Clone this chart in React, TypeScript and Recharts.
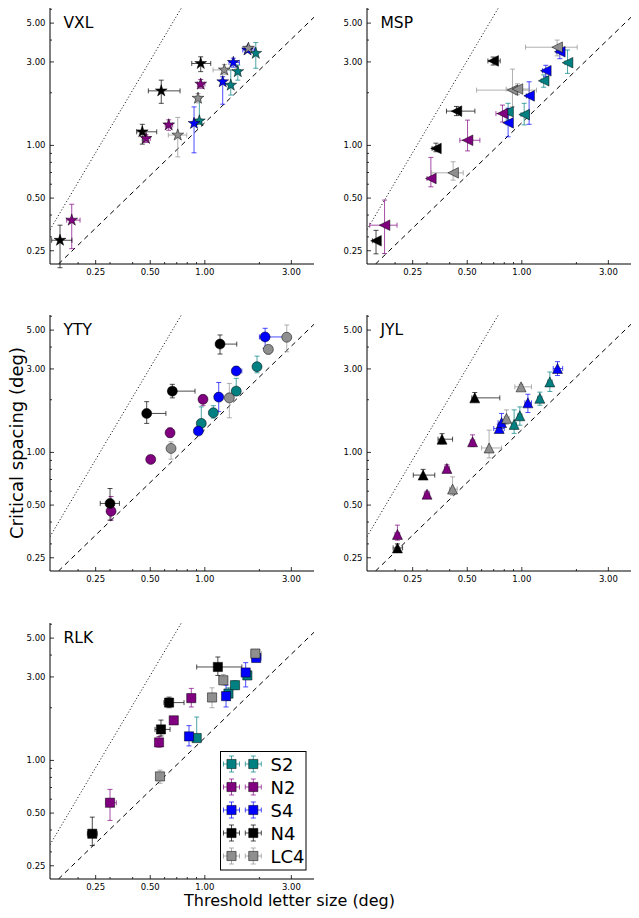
import React from 'react';
import { ScatterChart, Scatter, XAxis, YAxis, ErrorBar, ReferenceLine } from 'recharts';

// Each point: [x, y, xLow, xHigh, yLow, yHigh]
type Pt = [number, number, number, number, number, number];

const CONDITIONS = ['S2', 'N2', 'S4', 'N4', 'LC4'];
const COLORS: Record<string, string> = {
  S2: '#008080',
  N2: '#800080',
  S4: '#0000ff',
  N4: '#000000',
  LC4: '#8f8f8f',
};

const X_DOMAIN = [0.14, 4.0];
const Y_DOMAIN = [0.21, 6.1];
const X_MAJOR = [0.25, 0.5, 1, 3];
const X_MINOR = [0.2, 0.3, 0.4, 0.6, 0.7, 0.8, 0.9, 2];
const Y_MAJOR = [0.25, 0.5, 1, 3, 5];
const Y_MINOR = [0.3, 0.4, 0.6, 0.7, 0.8, 0.9, 2, 4, 6];

// guide lines (endpoints)
const DASHED_LINE = [{ x: 0.156, y: 0.21 }, { x: 4.0, y: 5.4 }];
const DOTTED_LINE = [{ x: 0.14, y: 0.33 }, { x: 0.742, y: 6.1 }];

// ---- VXL (stars)
const VXL_S2: Pt[] = [[0.933, 1.38, 0.91, 0.96, 1.32, 1.85], [1.39, 2.21, 1.35, 1.43, 1.94, 2.70], [1.52, 2.64, 1.47, 1.57, 2.36, 2.88], [1.91, 3.36, 1.86, 1.96, 2.76, 3.87]];
const VXL_N2: Pt[] = [[0.1845, 0.374, 0.173, 0.205, 0.257, 0.461], [0.474, 1.096, 0.455, 0.50, 1.04, 1.15], [0.632, 1.31, 0.605, 0.665, 1.22, 1.40], [0.949, 2.24, 0.91, 1.0, 2.12, 2.38]];
const VXL_S4: Pt[] = [[0.872, 1.336, 0.85, 0.90, 0.907, 1.66], [1.255, 2.31, 1.22, 1.29, 1.72, 2.47], [1.436, 2.98, 1.36, 1.55, 2.80, 3.15], [1.72, 3.51, 1.62, 1.88, 3.40, 3.65]];
const VXL_N4: Pt[] = [[0.159, 0.287, 0.143, 0.185, 0.2, 0.35], [0.452, 1.196, 0.421, 0.543, 1.017, 1.32], [0.575, 2.05, 0.488, 0.73, 1.74, 2.36], [0.949, 2.94, 0.847, 1.078, 2.64, 3.21]];
const VXL_LC4: Pt[] = [[0.709, 1.146, 0.629, 0.795, 0.86, 1.446], [0.917, 1.86, 0.89, 0.95, 1.75, 1.98], [1.28, 2.70, 1.11, 1.47, 2.55, 2.90], [1.74, 3.59, 1.68, 1.82, 3.48, 3.70]];

// ---- MSP (left triangles)
const MSP_S2: Pt[] = [[0.84, 1.556, 0.82, 0.87, 1.40, 1.74], [1.03, 1.50, 0.99, 1.07, 1.31, 1.74], [1.32, 2.34, 1.28, 1.36, 2.15, 2.53], [1.787, 2.97, 1.73, 1.85, 2.58, 3.51]];
const MSP_N2: Pt[] = [[0.175, 0.35, 0.145, 0.205, 0.241, 0.487], [0.315, 0.647, 0.30, 0.33, 0.58, 0.854], [0.502, 1.07, 0.455, 0.587, 0.93, 1.395], [0.782, 1.52, 0.72, 0.85, 1.36, 1.70]];
const MSP_S4: Pt[] = [[0.84, 1.346, 0.82, 0.87, 1.12, 1.63], [1.097, 1.92, 1.06, 1.14, 1.32, 2.31], [1.356, 2.67, 1.30, 1.42, 2.47, 2.87], [1.62, 3.43, 1.55, 1.72, 3.13, 3.75]];
const MSP_N4: Pt[] = [[0.157, 0.285, 0.15, 0.165, 0.24, 0.327], [0.336, 0.961, 0.32, 0.356, 0.92, 1.03], [0.436, 1.57, 0.384, 0.551, 1.48, 1.67], [0.695, 3.04, 0.65, 0.76, 2.88, 3.20]];
const MSP_LC4: Pt[] = [[0.418, 0.697, 0.318, 0.475, 0.633, 0.806], [0.888, 2.07, 0.563, 1.205, 1.66, 2.73], [0.946, 2.10, 0.82, 1.10, 1.95, 2.25], [1.566, 3.64, 1.048, 2.02, 3.25, 4.0]];

// ---- YTY (circles)
const YTY_S2: Pt[] = [[0.956, 1.465, 0.94, 0.97, 1.34, 1.82], [1.114, 1.685, 1.09, 1.14, 1.57, 1.85], [1.49, 2.24, 1.46, 1.52, 2.13, 2.65], [1.94, 3.09, 1.90, 1.98, 2.85, 3.55]];
const YTY_N2: Pt[] = [[0.304, 0.461, 0.295, 0.313, 0.41, 0.56], [0.503, 0.912, 0.49, 0.515, 0.88, 0.95], [0.643, 1.294, 0.625, 0.66, 1.22, 1.38], [0.977, 2.01, 0.96, 0.995, 1.85, 2.12]];
const YTY_S4: Pt[] = [[0.921, 1.324, 0.90, 0.94, 1.28, 1.37], [1.193, 2.07, 1.14, 1.25, 1.71, 2.51], [1.49, 2.92, 1.42, 1.60, 2.78, 3.10], [2.15, 4.57, 2.0, 2.75, 3.93, 5.12]];
const YTY_N4: Pt[] = [[0.30, 0.511, 0.265, 0.338, 0.41, 0.622], [0.478, 1.67, 0.46, 0.61, 1.465, 1.95], [0.662, 2.24, 0.64, 0.883, 2.05, 2.45], [1.213, 4.16, 1.18, 1.5, 3.65, 4.69]];
const YTY_LC4: Pt[] = [[0.651, 1.054, 0.635, 0.665, 0.915, 1.15], [1.365, 2.05, 1.33, 1.40, 1.577, 2.48], [2.24, 3.88, 2.18, 2.30, 3.65, 4.10], [2.83, 4.55, 2.75, 2.91, 3.76, 5.35]];

// ---- JYL (up triangles)
const JYL_S2: Pt[] = [[0.907, 1.446, 0.88, 0.935, 1.285, 1.75], [0.975, 1.62, 0.95, 1.0, 1.43, 1.82], [1.257, 2.04, 1.22, 1.29, 1.86, 2.21], [1.427, 2.53, 1.39, 1.47, 2.23, 2.88]];
const JYL_N2: Pt[] = [[0.206, 0.34, 0.2, 0.212, 0.315, 0.384], [0.30, 0.577, 0.29, 0.31, 0.56, 0.60], [0.386, 0.81, 0.375, 0.398, 0.78, 0.85], [0.535, 1.15, 0.52, 0.55, 1.08, 1.26]];
const JYL_S4: Pt[] = [[0.75, 1.37, 0.70, 0.80, 1.30, 1.45], [0.773, 1.48, 0.74, 0.81, 1.31, 1.67], [1.08, 1.92, 1.04, 1.13, 1.69, 2.15], [1.573, 3.02, 1.49, 1.68, 2.75, 3.30]];
const JYL_N4: Pt[] = [[0.206, 0.2845, 0.195, 0.22, 0.27, 0.30], [0.2855, 0.742, 0.252, 0.331, 0.70, 0.80], [0.363, 1.19, 0.345, 0.415, 1.12, 1.28], [0.55, 2.05, 0.53, 0.756, 1.95, 2.20]];
const JYL_LC4: Pt[] = [[0.415, 0.617, 0.40, 0.44, 0.57, 0.725], [0.66, 1.06, 0.60, 0.773, 0.93, 1.34], [0.823, 1.565, 0.80, 0.85, 1.45, 1.75], [0.99, 2.37, 0.915, 1.13, 2.30, 2.45]];

// ---- RLK (squares)
const RLK_S2: Pt[] = [[0.902, 1.342, 0.88, 0.925, 1.30, 1.77], [1.35, 2.41, 1.31, 1.39, 2.20, 2.60], [1.467, 2.69, 1.43, 1.51, 2.55, 2.85], [1.716, 3.06, 1.67, 1.76, 2.90, 3.25]];
const RLK_N2: Pt[] = [[0.30, 0.573, 0.285, 0.325, 0.454, 0.683], [0.559, 1.267, 0.545, 0.575, 1.19, 1.37], [0.674, 1.694, 0.66, 0.69, 1.62, 1.78], [0.842, 2.27, 0.81, 0.88, 2.02, 2.58]];
const RLK_S4: Pt[] = [[0.818, 1.372, 0.79, 0.845, 1.21, 1.58], [1.309, 2.33, 1.26, 1.36, 2.02, 2.69], [1.68, 3.18, 1.60, 1.77, 2.63, 3.62], [1.92, 3.85, 1.82, 2.04, 3.70, 4.00]];
const RLK_N4: Pt[] = [[0.2395, 0.381, 0.225, 0.255, 0.326, 0.474], [0.573, 1.504, 0.531, 0.643, 1.38, 1.70], [0.635, 2.14, 0.595, 0.768, 2.0, 2.30], [1.18, 3.42, 0.902, 1.6, 3.06, 3.90]];
const RLK_LC4: Pt[] = [[0.566, 0.81, 0.55, 0.585, 0.74, 0.88], [1.096, 2.29, 1.05, 1.15, 2.0, 2.6], [1.265, 2.87, 1.2, 1.33, 2.7, 3.1], [1.90, 4.08, 1.80, 2.05, 3.9, 4.3]];

type Marker = 'star' | 'tri_left' | 'circle' | 'tri_up' | 'square';

const PANELS: { name: string; marker: Marker; left: number; top: number; series: Record<string, Pt[]> }[] = [
  { name: 'VXL', marker: 'star', left: 0, top: 0, series: { S2: VXL_S2, N2: VXL_N2, S4: VXL_S4, N4: VXL_N4, LC4: VXL_LC4 } },
  { name: 'MSP', marker: 'tri_left', left: 317, top: 0, series: { S2: MSP_S2, N2: MSP_N2, S4: MSP_S4, N4: MSP_N4, LC4: MSP_LC4 } },
  { name: 'YTY', marker: 'circle', left: 0, top: 307, series: { S2: YTY_S2, N2: YTY_N2, S4: YTY_S4, N4: YTY_N4, LC4: YTY_LC4 } },
  { name: 'JYL', marker: 'tri_up', left: 317, top: 307, series: { S2: JYL_S2, N2: JYL_N2, S4: JYL_S4, N4: JYL_N4, LC4: JYL_LC4 } },
  { name: 'RLK', marker: 'square', left: 0, top: 615, series: { S2: RLK_S2, N2: RLK_N2, S4: RLK_S4, N4: RLK_N4, LC4: RLK_LC4 } },
];

const FONT = 'DejaVu Sans';
const CHART_W = 320;
const CHART_H = 290;
const MARGIN = { top: 8, right: 6, bottom: 6, left: 10 };
const Y_AXIS_W = 40;
const X_AXIS_H = 20;
const ERR_OPACITY = 0.7;

const X_TICKS = [...X_MAJOR, ...X_MINOR].sort((a, b) => a - b);
const Y_TICKS = [...Y_MAJOR, ...Y_MINOR].sort((a, b) => a - b);
const isMajor = (v: number, majors: number[]) => majors.some((m) => Math.abs(m - v) < 1e-9);

const MAJOR_LEN = 4;
const MINOR_LEN = 2;

const BottomTick = (props: any) => {
  const { x, y, payload } = props;
  const maj = isMajor(payload.value, X_MAJOR);
  return (
    <g>
      <line x1={x} x2={x} y1={y} y2={y - (maj ? MAJOR_LEN : MINOR_LEN)} stroke="#000" strokeWidth={0.8} />
      {maj && (
        <text x={x} y={y + 11} textAnchor="middle" fontSize={8.5} fontFamily={FONT} fill="#000">
          {payload.value.toFixed(2)}
        </text>
      )}
    </g>
  );
};
const TopTick = (props: any) => {
  const { x, y, payload } = props;
  const maj = isMajor(payload.value, X_MAJOR);
  return <line x1={x} x2={x} y1={y} y2={y + (maj ? MAJOR_LEN : MINOR_LEN)} stroke="#000" strokeWidth={0.8} />;
};
const LeftTick = (props: any) => {
  const { x, y, payload } = props;
  const maj = isMajor(payload.value, Y_MAJOR);
  return (
    <g>
      <line x1={x} x2={x + (maj ? MAJOR_LEN : MINOR_LEN)} y1={y} y2={y} stroke="#000" strokeWidth={0.8} />
      {maj && (
        <text x={x - 4.5} y={y + 3} textAnchor="end" fontSize={8.5} fontFamily={FONT} fill="#000">
          {payload.value.toFixed(2)}
        </text>
      )}
    </g>
  );
};
const RightTick = (props: any) => {
  const { x, y, payload } = props;
  const maj = isMajor(payload.value, Y_MAJOR);
  return <line x1={x} x2={x - (maj ? MAJOR_LEN : MINOR_LEN)} y1={y} y2={y} stroke="#000" strokeWidth={0.8} />;
};

function markerPath(kind: Marker, cx: number, cy: number): string {
  if (kind === 'star') {
    const R = 6.2;
    const r = R * 0.382;
    const pts: string[] = [];
    for (let i = 0; i < 10; i++) {
      const ang = -Math.PI / 2 + (i * Math.PI) / 5;
      const rad = i % 2 === 0 ? R : r;
      pts.push(`${cx + rad * Math.cos(ang)},${cy + rad * Math.sin(ang)}`);
    }
    return `M${pts.join('L')}Z`;
  }
  if (kind === 'tri_left') {
    const h = 5.3;
    return `M${cx - h},${cy}L${cx + h},${cy - h}L${cx + h},${cy + h}Z`;
  }
  if (kind === 'tri_up') {
    const h = 5;
    return `M${cx},${cy - h}L${cx - h},${cy + h}L${cx + h},${cy + h}Z`;
  }
  if (kind === 'square') {
    const h = 4.6;
    return `M${cx - h},${cy - h}L${cx + h},${cy - h}L${cx + h},${cy + h}L${cx - h},${cy + h}Z`;
  }
  const r = 5;
  return `M${cx - r},${cy}A${r},${r} 0 1 0 ${cx + r},${cy}A${r},${r} 0 1 0 ${cx - r},${cy}Z`;
}

const makeShape = (kind: Marker, color: string) => (props: any) => {
  const { cx, cy } = props;
  if (cx == null || cy == null || isNaN(cx) || isNaN(cy)) return <g />;
  return <path d={markerPath(kind, cx, cy)} fill={color} stroke="#000" strokeWidth={0.5} />;
};

const toRows = (pts: Pt[]) =>
  pts.map(([x, y, xl, xh, yl, yh]) => ({ x, y, ex: [x - xl, xh - x], ey: [y - yl, yh - y] }));

function Panel({ panel }: { panel: (typeof PANELS)[number] }) {
  return (
    <div style={{ position: 'absolute', left: panel.left, top: panel.top, width: CHART_W, height: CHART_H }}>
      <ScatterChart width={CHART_W} height={CHART_H} margin={MARGIN}>
        <XAxis
          xAxisId="b"
          type="number"
          dataKey="x"
          scale="log"
          domain={X_DOMAIN}
          allowDataOverflow
          ticks={X_TICKS}
          interval={0}
          tick={BottomTick}
          tickLine={false}
          tickSize={0}
          tickMargin={0}
          axisLine={{ stroke: '#000', strokeWidth: 1 }}
          height={X_AXIS_H}
        />
        <XAxis
          xAxisId="t"
          orientation="top"
          type="number"
          dataKey="x"
          scale="log"
          domain={X_DOMAIN}
          allowDataOverflow
          ticks={X_TICKS}
          interval={0}
          tick={TopTick}
          tickLine={false}
          tickSize={0}
          tickMargin={0}
          axisLine={{ stroke: '#000', strokeWidth: 1 }}
          height={0}
        />
        <YAxis
          yAxisId="l"
          type="number"
          dataKey="y"
          scale="log"
          domain={Y_DOMAIN}
          allowDataOverflow
          ticks={Y_TICKS}
          interval={0}
          tick={LeftTick}
          tickLine={false}
          tickSize={0}
          tickMargin={0}
          axisLine={{ stroke: '#000', strokeWidth: 1 }}
          width={Y_AXIS_W}
        />
        <YAxis
          yAxisId="r"
          orientation="right"
          type="number"
          dataKey="y"
          scale="log"
          domain={Y_DOMAIN}
          allowDataOverflow
          ticks={Y_TICKS}
          interval={0}
          tick={RightTick}
          tickLine={false}
          tickSize={0}
          tickMargin={0}
          axisLine={{ stroke: '#000', strokeWidth: 1 }}
          width={0}
        />
        <ReferenceLine
          xAxisId="b"
          yAxisId="l"
          segment={DOTTED_LINE}
          stroke="#000"
          strokeWidth={1}
          strokeDasharray="1 2.2"
          ifOverflow="hidden"
        />
        <ReferenceLine
          xAxisId="b"
          yAxisId="l"
          segment={DASHED_LINE}
          stroke="#000"
          strokeWidth={1}
          strokeDasharray="5 4"
          ifOverflow="hidden"
        />
        {CONDITIONS.map((c) => (
          <Scatter
            key={c}
            name={c}
            xAxisId="b"
            yAxisId="l"
            data={toRows(panel.series[c])}
            fill={COLORS[c]}
            shape={makeShape(panel.marker, COLORS[c])}
            isAnimationActive={false}
          >
            <ErrorBar dataKey="ex" direction="x" width={2.5} stroke={COLORS[c]} strokeOpacity={ERR_OPACITY} strokeWidth={1} />
            <ErrorBar dataKey="ey" direction="y" width={2.5} stroke={COLORS[c]} strokeOpacity={ERR_OPACITY} strokeWidth={1} />
          </Scatter>
        ))}
      </ScatterChart>
    </div>
  );
}

function LegendIcon({ cx, cy, color }: { cx: number; cy: number; color: string }) {
  const e = 8;
  const cap = 2.5;
  return (
    <g>
      <g stroke={color} strokeOpacity={ERR_OPACITY} strokeWidth={1}>
        <line x1={cx - e} x2={cx + e} y1={cy} y2={cy} />
        <line x1={cx} x2={cx} y1={cy - e} y2={cy + e} />
        <line x1={cx - e} x2={cx - e} y1={cy - cap} y2={cy + cap} />
        <line x1={cx + e} x2={cx + e} y1={cy - cap} y2={cy + cap} />
        <line x1={cx - cap} x2={cx + cap} y1={cy - e} y2={cy - e} />
        <line x1={cx - cap} x2={cx + cap} y1={cy + e} y2={cy + e} />
      </g>
      <path d={markerPath('square', cx, cy)} fill={color} stroke="#000" strokeWidth={0.5} />
    </g>
  );
}

export default function App() {
  const labelPos = PANELS.map((p) => ({
    name: p.name,
    x: p.left + MARGIN.left + Y_AXIS_W + 13.5,
    y: p.top + MARGIN.top + 19.5,
  }));
  const legendBox = { x: 220.5, y: 751.5, w: 85.5, h: 118.5 };
  return (
    <div style={{ position: 'absolute', left: 0, top: 0, width: 639, height: 918, background: '#fff' }}>
      {PANELS.map((p) => (
        <Panel key={p.name} panel={p} />
      ))}
      <svg
        width={639}
        height={918}
        style={{ position: 'absolute', left: 0, top: 0, pointerEvents: 'none' }}
      >
        {labelPos.map((l) => (
          <text key={l.name} x={l.x} y={l.y} fontSize={15.5} fontFamily={FONT} fill="#000">
            {l.name}
          </text>
        ))}
        <text
          transform="translate(22.5,443) rotate(-90)"
          textAnchor="middle"
          fontSize={18}
          fontFamily={FONT}
          fill="#000"
        >
          Critical spacing (deg)
        </text>
        <text x={289.5} y={906} textAnchor="middle" fontSize={16} fontFamily={FONT} fill="#000">
          Threshold letter size (deg)
        </text>
        <g>
          <rect x={legendBox.x} y={legendBox.y} width={legendBox.w} height={legendBox.h} fill="#fff" stroke="#000" strokeWidth={1} />
          {CONDITIONS.map((c, i) => {
            const cy = legendBox.y + 12.5 + i * 23;
            return (
              <g key={c}>
                <LegendIcon cx={legendBox.x + 11} cy={cy} color={COLORS[c]} />
                <LegendIcon cx={legendBox.x + 32.8} cy={cy} color={COLORS[c]} />
                <text x={legendBox.x + 50} y={cy + 6.5} fontSize={18} fontFamily={FONT} fill="#000">
                  {c}
                </text>
              </g>
            );
          })}
        </g>
      </svg>
    </div>
  );
}
